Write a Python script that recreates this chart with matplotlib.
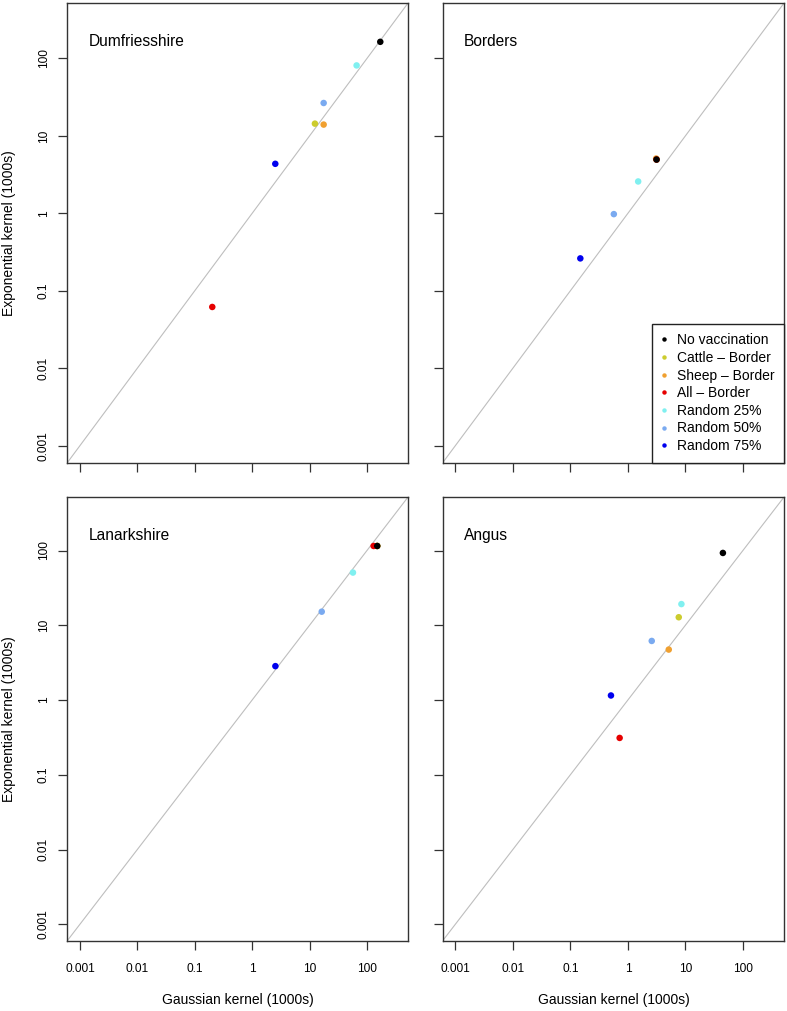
import matplotlib
matplotlib.use('Agg')
import matplotlib.pyplot as plt
from matplotlib.lines import Line2D
from matplotlib.ticker import NullLocator

plt.rcParams['font.family'] = ['Liberation Sans', 'DejaVu Sans']

regions = ["Dumfriesshire", "Borders", "Lanarkshire", "Angus"]
strategies = ["No vaccination", "Cattle \u2013 Border", "Sheep \u2013 Border", "All \u2013 Border",
              "Random 25%", "Random 50%", "Random 75%"]
colors = ["#000000", "#cccc2e", "#f0a030", "#e60000", "#80f0f0", "#7aaaf0", "#0000ee"]

# Gaussian kernel (x) and Exponential kernel (y), in 1000s, same order as strategies
dumf_gauss = [170.6, 12.4, 17.6, 0.202, 66.0, 17.6, 2.53]
dumf_expo = [164.0, 14.4, 14.0, 0.0618, 81.3, 26.6, 4.36]
bord_gauss = [3.15, 3.15, 3.10, 3.15, 1.51, 0.570, 0.149]
bord_expo = [4.95, 4.95, 5.10, 4.95, 2.58, 0.977, 0.262]
lanark_gauss = [151.0, 151.0, 151.0, 130.6, 57.0, 16.3, 2.54]
lanark_expo = [115.0, 115.0, 115.0, 115.0, 50.7, 15.2, 2.84]
angus_gauss = [44.9, 7.67, 5.14, 0.719, 8.53, 2.60, 0.508]
angus_expo = [92.8, 12.8, 4.73, 0.311, 19.2, 6.17, 1.15]

tick_values = [0.001, 0.01, 0.1, 1, 10, 100]
tick_labels = ["0.001", "0.01", "0.1", "1", "10", "100"]

data = [(dumf_gauss, dumf_expo), (bord_gauss, bord_expo),
        (lanark_gauss, lanark_expo), (angus_gauss, angus_expo)]

W, H = 787, 1011
fig = plt.figure(figsize=(W / 100, H / 100), dpi=100)

def px_axes(l, t, r, b):
    return [l / W, 1 - b / H, (r - l) / W, (b - t) / H]

boxes = [(67.3, 2.7, 408.3, 462.7), (442.7, 2.7, 784.3, 462.7),
         (67.3, 496.7, 408.3, 940.7), (442.7, 496.7, 784.3, 940.7)]
lim = (10 ** -3.22, 10 ** 2.72)
frame_col = '#333333'
draw_order = [1, 2, 3, 4, 5, 6, 0]

for i, (box, name, (gx, ey)) in enumerate(zip(boxes, regions, data)):
    ax = fig.add_axes(px_axes(*box))
    ax.set_xscale('log')
    ax.set_yscale('log')
    ax.set_xlim(lim)
    ax.set_ylim(lim)
    ax.plot(lim, lim, color='#bebebe', lw=0.8, zorder=1)
    for k in draw_order:
        ax.scatter([gx[k]], [ey[k]], s=22, color=colors[k], edgecolors='none', zorder=3)
    ax.set_xticks(tick_values)
    ax.set_yticks(tick_values)
    ax.xaxis.set_minor_locator(NullLocator())
    ax.yaxis.set_minor_locator(NullLocator())
    ax.set_xticklabels(tick_labels, fontsize=8.6)
    ax.set_yticklabels(tick_labels, fontsize=8.6, rotation=90, va='center')
    ax.tick_params(axis='both', direction='out', length=6.5, width=0.9, color=frame_col)
    ax.tick_params(axis='x', pad=9.5)
    ax.tick_params(axis='y', pad=6.2)
    for sp in ax.spines.values():
        sp.set_color(frame_col)
        sp.set_linewidth(1.0)
    ax.annotate(name, xy=(0, 1), xycoords='axes fraction', xytext=(15.1, -27.6),
                textcoords='offset points', ha='left', va='center', fontsize=11.2)
    if i < 2:
        ax.tick_params(axis='x', labelbottom=False)
    else:
        ax.set_xlabel("Gaussian kernel (1000s)", fontsize=10, va='center')
        ax.xaxis.set_label_coords(0.5, -(1000 - 940.7) / 444)
    if i % 2 == 1:
        ax.tick_params(axis='y', labelleft=False)
    else:
        ax.set_ylabel("Exponential kernel (1000s)", fontsize=10, va='center')
        ax.yaxis.set_label_coords(-(67.3 - 8.8) / 341, 0.5)
    if i == 1:
        handles = [Line2D([], [], marker='o', linestyle='none', markersize=3.2,
                          markerfacecolor=c, markeredgecolor='none') for c in colors]
        leg = ax.legend(handles, strategies, loc='lower right', borderaxespad=0,
                        fontsize=10, frameon=True, fancybox=False, framealpha=1,
                        edgecolor='#222222', borderpad=0.7, labelspacing=0.26,
                        handlelength=0.4, handletextpad=0.7)
        leg.get_frame().set_linewidth(1.0)

fig.savefig('out.png', dpi=100)
